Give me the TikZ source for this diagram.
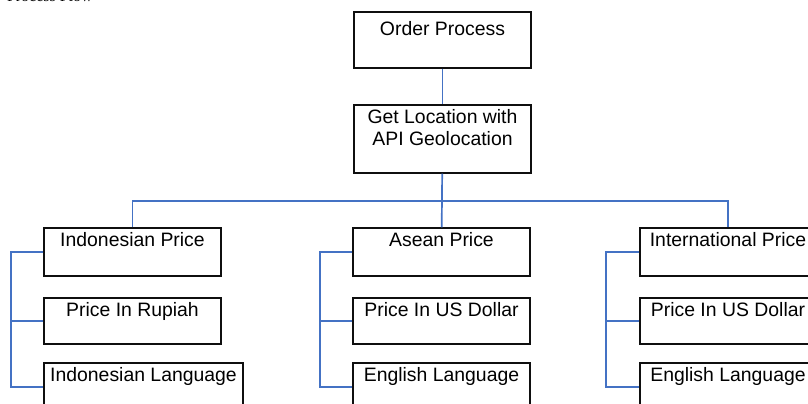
\documentclass[tikz,border=0pt]{standalone}
\usepackage{fontspec}
\setmainfont{Liberation Sans}
\newfontfamily\titlefont{Liberation Serif}
\usetikzlibrary{positioning,calc}
\definecolor{linkblue}{RGB}{68,114,196}
\definecolor{boxline}{RGB}{15,15,15}
\tikzset{
  frame/.style={draw=boxline,line width=1.4pt,inner sep=0pt,minimum width=177pt,minimum height=48pt},
  box/.style={frame,label={[intext]north:#1}},
  intext/.style={anchor=north,inner sep=0pt,yshift=-5pt,align=center,font=\fontsize{19.4}{21.5}\selectfont,text=black},
  link/.style={draw=linkblue,line width=1.7pt}
}

\begin{document}
\begin{tikzpicture}[x=1pt,y=-1pt]
  \useasboundingbox (0,0) rectangle (808,404);
  \clip (0,0) rectangle (808,404);
  \node[anchor=base east,inner sep=0pt,font=\titlefont\fontsize{16}{18}\selectfont] (title) at (93,1.5) {Process Flow};
  % top of the tree
  \node[frame,minimum height=56pt,label={[intext,yshift=-5pt]north:Order Process}] (order) at (442.5,40) {};
  \node[box={Get Location with\\API Geolocation},minimum height=68pt] (geo) at (442.5,139) {};
  % three price groups
  \node[box={Indonesian Price}] (indo) at (132.5,252) {};
  \node[box={Price In Rupiah},minimum height=46pt] (rupiah) at (132.5,321) {};
  \node[box={Indonesian Language},minimum width=199pt] (idlang) at (143.5,387) {};
  \node[box={Asean Price}] (asean) at (441.5,252) {};
  \node[box={Price In US Dollar},minimum height=46pt] (asusd) at (441.5,321) {};
  \node[box={English Language}] (aseng) at (441.5,387) {};
  \node[box={International Price},minimum width=176pt] (intl) at (728,252) {};
  \node[box={Price In US Dollar},minimum width=176pt,minimum height=46pt] (inusd) at (728,321) {};
  \node[box={English Language},minimum width=176pt] (ineng) at (728,387) {};
  % connectors
  \draw[link] (order) -- (geo);
  \draw[link] (geo) -- (asean);
  \draw[link] (indo.north) -- ++(0,-26) -| (intl.north);
  \draw[link] (indo.west) -- ++(-32.3,0) |- (idlang.west);
  \draw[link] (rupiah.west) -- ++(-32.3,0);
  \draw[link] (asean.west) -- ++(-32.3,0) |- (aseng.west);
  \draw[link] (asusd.west) -- ++(-32.3,0);
  \draw[link] (intl.west) -- ++(-33,0) |- (ineng.west);
  \draw[link] (inusd.west) -- ++(-33,0);
\end{tikzpicture}
\end{document}
